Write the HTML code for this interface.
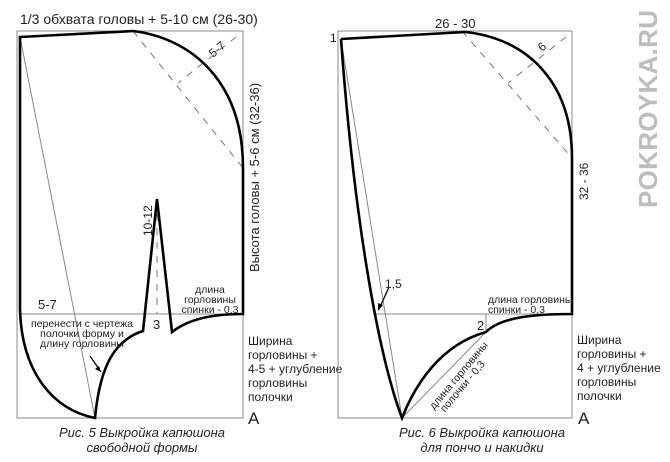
<!DOCTYPE html>
<html><head><meta charset="utf-8"><style>
html,body{margin:0;padding:0;background:#fff}
svg{display:block}
text{font-family:"Liberation Sans","DejaVu Sans",sans-serif;fill:#222}
</style></head><body>
<svg width="670" height="462" viewBox="0 0 670 462">
<g>
 <g fill="none" stroke="#888" stroke-width="1">
  <rect x="17" y="31" width="226" height="387"/>
  <line x1="20" y1="314" x2="243" y2="314"/>
  <line x1="20" y1="37" x2="95" y2="418"/>
 </g>
 <g fill="none" stroke="#777" stroke-width="1" stroke-dasharray="7,7">
  <line x1="133" y1="31" x2="243" y2="168"/>
  <line x1="236" y1="37" x2="178" y2="83"/>
  <line x1="157" y1="200" x2="157" y2="314"/>
 </g>
 <path d="M20 37 L133 31 C190 38 243 80 243 168 L243 314 C215 314 190 318 172 332 L157 199 L143 331 C115 340 100 365 95 418 C55 410 22 375 20 310 Z" fill="none" stroke="#000" stroke-width="2.6" stroke-linejoin="miter"/>
 <line x1="90" y1="356" x2="101" y2="372" stroke="#000" stroke-width="1.3"/>
 <path d="M101 372 l-6 -3 l4 -3 z" fill="#000"/>
 <text x="20" y="24" font-size="14">1/3 обхвата головы + 5-10 см (26-30)</text>
 <text x="0" y="0" font-size="12" transform="translate(213,58) rotate(-40)">5-7</text>
 <text x="0" y="0" font-size="13" transform="translate(259,272) rotate(-90)">Высота головы + 5-6 см (32-36)</text>
 <text x="0" y="0" font-size="12" transform="translate(152,236) rotate(-90)">10-12</text>
 <text x="38" y="309" font-size="13">5-7</text>
 <text x="153" y="329" font-size="13">3</text>
 <g font-size="10.5" text-anchor="middle">
  <text x="210" y="293">длина</text><text x="210" y="303">горловины</text><text x="210" y="313">спинки - 0,3</text>
 </g>
 <g font-size="10.5" text-anchor="middle">
  <text x="82" y="327">перенести с чертежа</text><text x="82" y="337">полочки форму и</text><text x="82" y="347">длину горловины</text>
 </g>
 <g font-size="12">
  <text x="248" y="345">Ширина</text><text x="248" y="359">горловины +</text><text x="248" y="373">4-5 + углубление</text><text x="248" y="387">горловины</text><text x="248" y="401">полочки</text>
 </g>
 <text x="248" y="424" font-size="17">А</text>
 <g font-size="13" font-style="italic" text-anchor="middle" fill="#333">
  <text x="142" y="437">Рис. 5 Выкройка капюшона</text><text x="142" y="452">свободной формы</text>
 </g>
</g>
<g>
 <g fill="none" stroke="#888" stroke-width="1">
  <rect x="338" y="31" width="234" height="387"/>
  <line x1="373" y1="314" x2="572" y2="314"/>
  <line x1="341" y1="39" x2="402" y2="418"/>
  <line x1="486" y1="314" x2="486" y2="332"/>
  <line x1="402" y1="418" x2="485" y2="333"/>
 </g>
 <g fill="none" stroke="#777" stroke-width="1" stroke-dasharray="7,7">
  <line x1="462" y1="31" x2="572" y2="158"/>
  <line x1="566" y1="37" x2="508" y2="83"/>
 </g>
 <path d="M341 39 L465 32 C525 38 572 80 572 158 L572 314 C530 314 500 318 486 332 C440 345 415 385 402 418 C380 360 355 230 341 39" fill="none" stroke="#000" stroke-width="2.6"/>
 <line x1="389" y1="287" x2="380" y2="307" stroke="#000" stroke-width="1.3"/>
 <path d="M378 311 l0 -8 l5 2 z" fill="#000"/>
 <text x="330" y="42" font-size="12">1</text>
 <text x="435" y="28" font-size="13">26 - 30</text>
 <text x="0" y="0" font-size="12" transform="translate(542,52) rotate(-40)">6</text>
 <text x="0" y="0" font-size="12" transform="translate(588,200) rotate(-90)">32 - 36</text>
 <text x="385" y="288" font-size="12">1,5</text>
 <text x="477" y="330" font-size="13">2</text>
 <g font-size="10.5">
  <text x="488" y="303">длина горловины</text><text x="488" y="313">спинки - 0,3</text>
 </g>
 <g font-size="10.5" transform="translate(434,410) rotate(-50)">
  <text x="0" y="0">длина горловины</text><text x="5" y="10">полочки - 0,3</text>
 </g>
 <g font-size="12">
  <text x="577" y="344">Ширина</text><text x="577" y="358">горловины +</text><text x="577" y="372">4 + углубление</text><text x="577" y="386">горловины</text><text x="577" y="400">полочки</text>
 </g>
 <text x="578" y="424" font-size="17">А</text>
 <g font-size="13" font-style="italic" text-anchor="middle" fill="#333">
  <text x="482" y="437">Рис. 6 Выкройка капюшона</text><text x="482" y="452">для пончо и накидки</text>
 </g>
</g>
<text x="0" y="0" font-size="26" font-weight="bold" transform="translate(657,208) rotate(-90)" style="fill:#bdbdbd" textLength="198">POKROYKA.RU</text>
</svg>
</body></html>
